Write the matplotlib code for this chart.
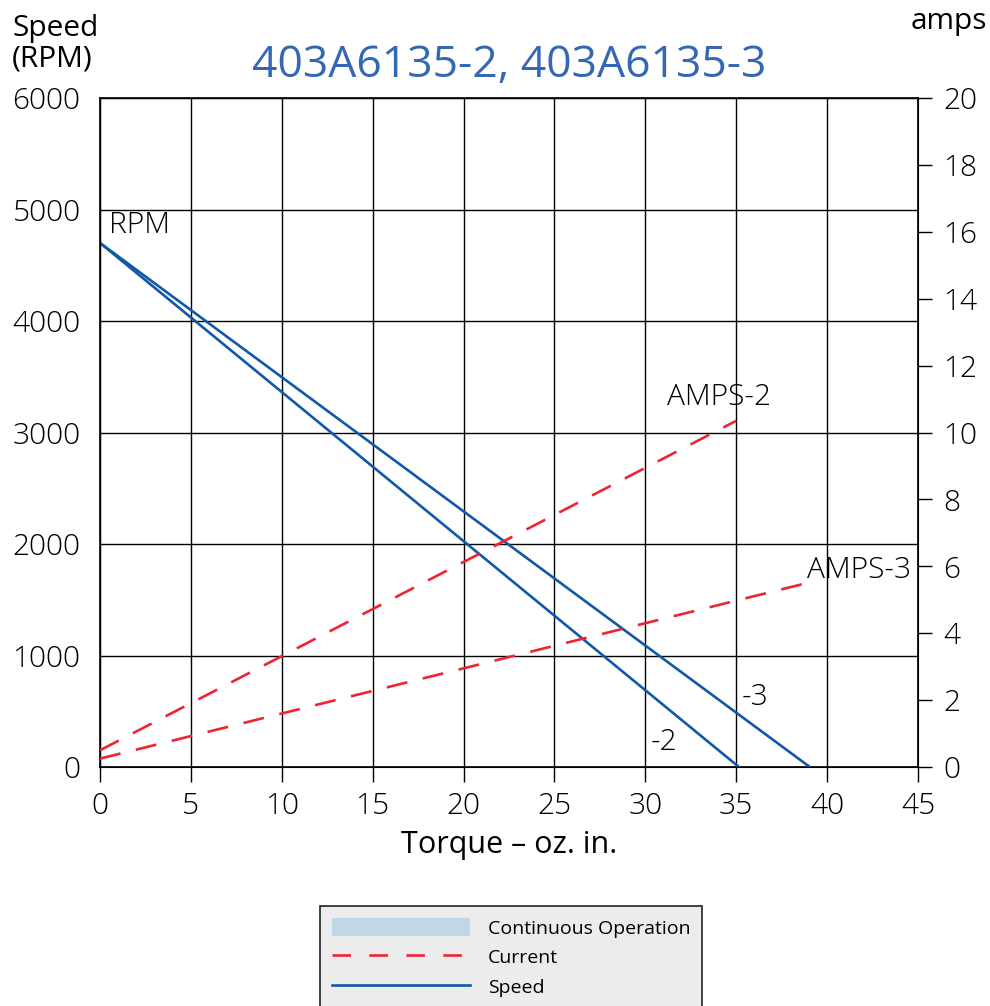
import numpy as np
import matplotlib.pyplot as plt
from matplotlib.lines import Line2D
from matplotlib.patches import Patch

plt.rcParams['font.family'] = ['Open Sans', 'DejaVu Sans']

# torque (oz. in.) vs speed (RPM) and current (amps)
torque_speed_2 = [0, 35.15]
speed_2 = [4700, 0]
torque_speed_3 = [0, 39.05]
speed_3 = [4700, 0]

torque_amps_2 = [0, 35.0]
amps_2 = [0.5, 10.35]
torque_amps_3 = [0, 38.9]
amps_3 = [0.25, 5.5]

x_ticks = [0, 5, 10, 15, 20, 25, 30, 35, 40, 45]
rpm_ticks = [0, 1000, 2000, 3000, 4000, 5000, 6000]
amp_ticks = [0, 2, 4, 6, 8, 10, 12, 14, 16, 18, 20]

blue = '#1158a7'
red = '#ee2433'
fs = 21.5

fig = plt.figure(figsize=(9.9, 10.06), dpi=100)
ax = fig.add_axes([100/990, 1 - 767/1006, 818/990, 669/1006])

ax.plot(torque_speed_2, speed_2, color=blue, lw=1.9, zorder=3)
ax.plot(torque_speed_3, speed_3, color=blue, lw=1.9, zorder=3)

ax.set_xlim(0, 45)
ax.set_ylim(0, 6000)
ax.set_xticks(x_ticks)
ax.set_yticks(rpm_ticks)
ax.grid(True, color='black', lw=1.0)
ax.set_axisbelow(True)
ax.tick_params(axis='y', length=0, pad=14, labelsize=fs)
ax.tick_params(axis='x', length=11, width=1, pad=7, labelsize=fs, direction='out')
for s in ax.spines.values():
    s.set_linewidth(1.2)
for lbl in ax.get_xticklabels() + ax.get_yticklabels():
    lbl.set_fontweight('light')

ax2 = ax.twinx()
ax2.plot(torque_amps_2, amps_2, color=red, lw=1.9, dashes=(8, 6), zorder=3)
ax2.plot(torque_amps_3, amps_3, color=red, lw=1.9, dashes=(8, 6), zorder=3)
ax2.set_ylim(0, 20)
ax2.set_yticks(amp_ticks)
ax2.tick_params(axis='y', length=10, width=1, pad=8, labelsize=fs)
for lbl in ax2.get_yticklabels():
    lbl.set_fontweight('light')

ax.set_xlabel('Torque – oz. in.', fontsize=22, labelpad=6)
ax.set_title('403A6135-2, 403A6135-3', color='#3468b5', fontsize=32, pad=15)

fig.text(12/990, 1 - 44/1006, 'Speed\n(RPM)', fontsize=21.5, ha='left', va='center',
         linespacing=1.05)
fig.text(987/990, 1 - 22/1006, 'amps', fontsize=21.5, ha='right', va='center')

# curve labels
ax.text(0.5, 4730, 'RPM', fontsize=fs, fontweight='light', va='bottom')
ax2.text(31.2, 10.6, 'AMPS-2', fontsize=fs, fontweight='light', va='bottom')
ax2.text(38.9, 5.45, 'AMPS-3', fontsize=fs, fontweight='light', va='bottom')
ax.text(35.3, 630, '-3', fontsize=fs, fontweight='light', va='center')
ax.text(30.3, 220, '-2', fontsize=fs, fontweight='light', va='center')

handles = [Patch(facecolor='#c0d8e6', edgecolor='none'),
           Line2D([], [], color=red, lw=1.9, dashes=(7, 7)),
           Line2D([], [], color=blue, lw=1.9)]
leg = fig.legend(handles, ['Continuous Operation', 'Current', 'Speed'],
                 loc='upper left', bbox_to_anchor=(320/990, 1 - 906/1006),
                 fontsize=14, handlelength=7.1, handleheight=1.1, handletextpad=0.95,
                 borderpad=0.6, labelspacing=0.5, fancybox=False,
                 framealpha=1, borderaxespad=0)
leg.get_frame().set_facecolor('#ececec')
leg.get_frame().set_edgecolor('#222222')
leg.get_frame().set_linewidth(1.2)

fig.savefig('out.png', dpi=100)
